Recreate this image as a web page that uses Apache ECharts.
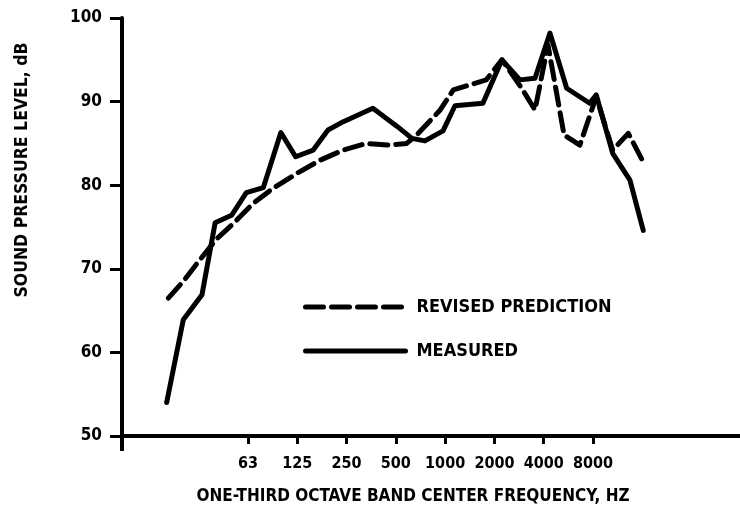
<!DOCTYPE html>
<html>
<head>
<meta charset="utf-8">
<script src="https://cdn.jsdelivr.net/npm/echarts@6/dist/echarts.min.js"></script>
<style>
  html, body { margin: 0; padding: 0; background: #fff; }
  #chart { width: 740px; height: 519px; }
</style>
</head>
<body>
<div id="chart"></div>
<script>
// One-third octave band numbers (band 18 = 63 Hz ... band 39 = 8000 Hz)
const tickBands = [18, 21, 24, 27, 30, 33, 36, 39];
const tickLabels = ['63', '125', '250', '500', '1000', '2000', '4000', '8000'];

// Measured spectrum: band position, level in dB
const measuredBand = [13.05, 14.06, 15.2, 16.0, 17.0, 17.9, 18.93, 20.0, 20.9, 21.97, 22.87, 23.8, 25.6, 27.1, 27.98, 28.77, 29.87, 30.6, 32.3, 33.46, 34.55, 35.47, 36.38, 37.4, 38.8, 39.2, 40.2, 41.25, 42.06];
const measuredDb   = [54.0, 63.9, 66.9, 75.5, 76.4, 79.1, 79.7, 86.3, 83.4, 84.2, 86.6, 87.6, 89.2, 87.0, 85.6, 85.3, 86.5, 89.5, 89.8, 95.0, 92.6, 92.8, 98.2, 91.6, 89.8, 90.8, 83.8, 80.6, 74.6];

// Revised prediction
const predictedBand = [13.15, 14.06, 15.08, 16.1, 17.1, 18.3, 19.5, 20.96, 22.4, 23.8, 25.2, 26.6, 27.66, 28.27, 29.7, 30.5, 32.5, 33.46, 34.66, 35.47, 36.26, 37.24, 38.2, 39.2, 40.2, 41.15, 42.16];
const predictedDb   = [66.5, 68.5, 71.1, 73.6, 75.4, 77.8, 79.6, 81.4, 83.0, 84.2, 85.0, 84.8, 85.0, 86.0, 89.0, 91.4, 92.6, 95.0, 91.6, 89.0, 96.8, 86.0, 84.8, 90.6, 84.2, 86.2, 82.4];

const yTicks = { min: 50, max: 100, step: 10 };

const FONT = 'DejaVu Sans Condensed';
const INK = '#000';

const pairs = (xs, ys) => xs.map((x, i) => [x, ys[i]]);

const chart = echarts.init(document.getElementById('chart'), null, { renderer: 'canvas' });

const option = {
  backgroundColor: '#fff',
  animation: false,
  grid: { left: 122, right: 0, top: 18, bottom: 83, containLabel: false },
  xAxis: {
    type: 'value',
    min: 10.33,
    max: 47.95,
    axisLine: { show: true, lineStyle: { color: INK, width: 4 } },
    axisTick: {
      show: true, customValues: tickBands, inside: false, length: 8,
      lineStyle: { color: INK, width: 3 }
    },
    axisLabel: {
      show: true, customValues: tickBands, margin: 20,
      formatter: v => tickLabels[tickBands.indexOf(Math.round(v))] || '',
      color: INK, fontFamily: FONT, fontWeight: 'bold', fontSize: 16
    },
    splitLine: { show: false }
  },
  yAxis: {
    type: 'value',
    min: yTicks.min,
    max: yTicks.max,
    interval: yTicks.step,
    axisLine: { show: true, lineStyle: { color: INK, width: 4 } },
    axisTick: { show: true, length: 12, lineStyle: { color: INK, width: 3 } },
    axisLabel: {
      margin: 20, color: INK, fontFamily: FONT, fontWeight: 'bold', fontSize: 17
    },
    splitLine: { show: false }
  },
  legend: {
    orient: 'vertical',
    left: 303,
    top: 296,
    padding: 0,
    itemWidth: 100,
    itemHeight: 22,
    itemGap: 22,
    itemStyle: { opacity: 0 },
    lineStyle: { width: 5 },
    textStyle: {
      color: INK, fontFamily: FONT, fontWeight: 'bold', fontSize: 18,
      lineHeight: 22,
      padding: [0, 0, 0, 6]
    },
    data: ['REVISED PREDICTION', 'MEASURED']
  },
  series: [
    {
      name: 'REVISED PREDICTION',
      type: 'line',
      data: pairs(predictedBand, predictedDb),
      symbol: 'none',
      lineStyle: { color: INK, width: 5, type: [18, 8], cap: 'round', join: 'round' },
      itemStyle: { color: INK }
    },
    {
      name: 'MEASURED',
      type: 'line',
      data: pairs(measuredBand, measuredDb),
      symbol: 'none',
      lineStyle: { color: INK, width: 5, cap: 'round', join: 'round' },
      itemStyle: { color: INK }
    }
  ]
};

chart.setOption(option);

// Axis titles and the short extension of the level axis below the frequency axis
const origin = chart.convertToPixel({ gridIndex: 0 }, [10.33, yTicks.min]);
chart.setOption({
  graphic: [
    {
      type: 'line',
      shape: { x1: origin[0], y1: origin[1], x2: origin[0], y2: origin[1] + 15 },
      style: { stroke: INK, lineWidth: 4 }
    },
    {
      type: 'text',
      x: 22, y: 170,
      rotation: Math.PI / 2,
      style: {
        text: 'SOUND PRESSURE LEVEL, dB',
        fill: INK, font: 'bold 17.5px "' + FONT + '"',
        align: 'center', verticalAlign: 'middle'
      }
    },
    {
      type: 'text',
      x: 413, y: 497,
      style: {
        text: 'ONE-THIRD OCTAVE BAND CENTER FREQUENCY, HZ',
        fill: INK, font: 'bold 17px "' + FONT + '"',
        align: 'center', verticalAlign: 'middle'
      }
    }
  ]
});
</script>
</body>
</html>
